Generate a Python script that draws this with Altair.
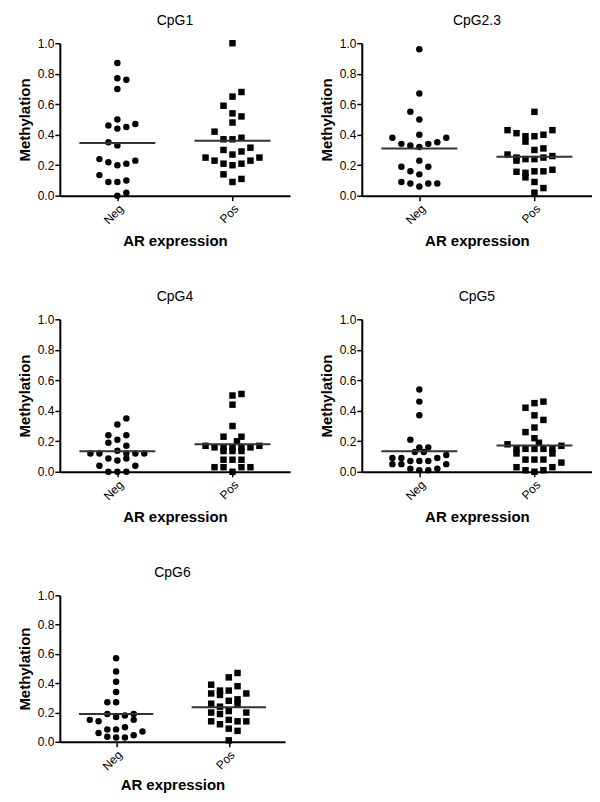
import altair as alt
import pandas as pd

FONT = "Liberation Sans"

panels = ["CpG1", "CpG2.3", "CpG4", "CpG5", "CpG6"]
groups = ["Neg", "Pos"]

# Values; "slot" is the beeswarm column of each point
cpg1_neg = [0.87, 0.77, 0.76, 0.70, 0.50, 0.46, 0.44, 0.45, 0.47, 0.35, 0.33,
            0.24, 0.22, 0.20, 0.21, 0.23, 0.135, 0.09, 0.09, 0.10, 0.0, 0.02]
cpg1_neg_slot = [0, 0, 1, 0, 0, -1, 0, 1, 2, -1, 0, -2, -1, 0, 1, 2, -2, -1, 0, 1, 0, 1]
cpg1_pos = [1.0, 0.68, 0.65, 0.59, 0.54, 0.52, 0.48, 0.42, 0.37, 0.37, 0.38, 0.315,
            0.30, 0.27, 0.29, 0.25, 0.23, 0.21, 0.20, 0.21, 0.23, 0.25, 0.14, 0.09, 0.11]
cpg1_pos_slot = [0, 1, 0, -1, 0, 1, 0, -2, -1, 0, 1, 2, -1, 0, 1, -3, -2, -1, 0, 1, 2, 3, -1, 0, 1]

cpg23_neg = [0.96, 0.67, 0.55, 0.50, 0.40, 0.38, 0.34, 0.33, 0.32, 0.34, 0.35,
             0.38, 0.23, 0.19, 0.19, 0.16, 0.14, 0.09, 0.08, 0.06, 0.08, 0.08]
cpg23_neg_slot = [0, 0, -1, 0, 0, -3, -2, -1, 0, 1, 2, 3, 0, -2, 1, -1, 0, -2, -1, 0, 1, 2]
cpg23_pos = [0.55, 0.43, 0.41, 0.39, 0.355, 0.39, 0.40, 0.43, 0.30, 0.31, 0.27, 0.25, 0.23,
             0.24, 0.24, 0.25, 0.26, 0.157, 0.15, 0.12, 0.16, 0.16, 0.17, 0.09, 0.05, 0.02]
cpg23_pos_slot = [0, -3, -2, -1, -1, 0, 1, 2, 0, 1, -3, -2, -2, -1, 0, 1, 2, -2, -1, -1, 0, 1, 2, 0, 1, 0]

cpg4_neg = [0.35, 0.31, 0.24, 0.24, 0.19, 0.21, 0.17, 0.12, 0.12, 0.138, 0.12,
            0.12, 0.12, 0.087, 0.074, 0.087, 0.04, 0.04, 0.0, 0.0, 0.0]
cpg4_neg_slot = [1, 0, -1, 1, -1, 0, 1, -3, -2, 0, 1, 2, 3, -1, 0, 1, -2, 2, -1, 0, 1]
cpg4_pos = [0.51, 0.50, 0.44, 0.30, 0.23, 0.23, 0.20, 0.17, 0.16, 0.16, 0.16, 0.16, 0.16,
            0.17, 0.136, 0.136, 0.136, 0.079, 0.079, 0.079, 0.03, 0.03, 0.03, 0.03, 0.0]
cpg4_pos_slot = [1, 0, 0, 0, -1, 1, 0.5, -3, -2, -1, 0, 1, 2, 3, -1, 0, 1, -1, 0, 1, -2, -1, 1, 2, 0]

cpg5_neg = [0.54, 0.46, 0.37, 0.21, 0.16, 0.16, 0.13, 0.13, 0.09, 0.09, 0.07,
            0.07, 0.07, 0.09, 0.11, 0.05, 0.05, 0.05, 0.02, 0.01, 0.01, 0.02]
cpg5_neg_slot = [0, 0, 0, -1, 0, 1, -0.5, 0.5, -3, -2, -1, 0, 1, 2, 3, -3, -2, 3, -1, 0, 1, 2]
cpg5_pos = [0.42, 0.45, 0.46, 0.37, 0.34, 0.29, 0.26, 0.22, 0.19, 0.18, 0.17, 0.15, 0.15, 0.15,
            0.15, 0.15, 0.12, 0.12, 0.08, 0.08, 0.08, 0.06, 0.03, 0.01, 0.0, 0.01, 0.03]
cpg5_pos_slot = [-1, 0, 1, 0, 1, 0, -1, 0, 0.5, -3, 3, -2, -1, 0, 1, 2, -2, 2, -1, 0, 1, 3, -2, -1, 0, 1, 2]

cpg6_neg = [0.57, 0.48, 0.41, 0.34, 0.27, 0.27, 0.19, 0.17, 0.18, 0.19, 0.15,
            0.14, 0.15, 0.085, 0.085, 0.10, 0.06, 0.07, 0.035, 0.03, 0.03, 0.045]
cpg6_neg_slot = [0, 0, 0, 0, -1, 0, -1, 0, 1, 2, -3, -2, 2, -1, 0, 1, -2, 3, -1, 0, 1, 2]
cpg6_pos = [0.47, 0.44, 0.39, 0.38, 0.33, 0.35, 0.32, 0.35, 0.33, 0.29, 0.26, 0.26, 0.24,
            0.28, 0.20, 0.19, 0.20, 0.21, 0.14, 0.12, 0.15, 0.14, 0.14, 0.09, 0.075, 0.01]
cpg6_pos_slot = [1, 0, -2, 1, -2, -1, -1, 0, 2, 1, 1, -2, -1, 0, -2, -1, 2, 0, -2, -1, 0, 1, 2, 0, 1, 0]

medians_neg = [0.345, 0.31, 0.135, 0.135, 0.19]
medians_pos = [0.36, 0.255, 0.18, 0.173, 0.236]

y_ticks = [0.0, 0.2, 0.4, 0.6, 0.8, 1.0]

series = {
    "CpG1": (cpg1_neg, cpg1_neg_slot, cpg1_pos, cpg1_pos_slot),
    "CpG2.3": (cpg23_neg, cpg23_neg_slot, cpg23_pos, cpg23_pos_slot),
    "CpG4": (cpg4_neg, cpg4_neg_slot, cpg4_pos, cpg4_pos_slot),
    "CpG5": (cpg5_neg, cpg5_neg_slot, cpg5_pos, cpg5_pos_slot),
    "CpG6": (cpg6_neg, cpg6_neg_slot, cpg6_pos, cpg6_pos_slot),
}

rows = []
for name, (nv, ns, pv, ps) in series.items():
    for v, s in zip(nv, ns):
        rows.append({"panel": name, "group": "Neg", "gidx": 0, "value": v, "slot": s})
    for v, s in zip(pv, ps):
        rows.append({"panel": name, "group": "Pos", "gidx": 1, "value": v, "slot": s})
pts_df = pd.DataFrame(rows)

med_rows = []
for i, name in enumerate(panels):
    med_rows.append({"panel": name, "group": "Neg", "gidx": 0, "median": medians_neg[i]})
    med_rows.append({"panel": name, "group": "Pos", "gidx": 1, "median": medians_pos[i]})
med_df = pd.DataFrame(med_rows)

STEP = 0.078
HALF = 0.33


def make_axes(xtitle_pad):
    xaxis = alt.Axis(values=[0, 1], labelExpr="datum.value == 0 ? 'Neg' : 'Pos'",
                     labelAngle=-45, labelFontSize=12, labelFont=FONT, labelColor="black",
                     labelOverlap=False,
                     title="AR expression", titleFontSize=15, titleFontWeight="bold",
                     titleFont=FONT, titleColor="black", titlePadding=xtitle_pad,
                     domainColor="black", domainWidth=2, tickColor="black", tickWidth=1.5,
                     tickSize=5, labelPadding=2, grid=False)
    yaxis = alt.Axis(values=y_ticks, format=".1f",
                     labelFontSize=12, labelFont=FONT, labelColor="black", labelPadding=1,
                     labelOverlap=False, labelFlush=False,
                     title="Methylation", titleFontSize=15, titleFontWeight="bold",
                     titleFont=FONT, titleColor="black", titlePadding=5,
                     domainColor="black", domainWidth=2, tickColor="black", tickWidth=1.5,
                     tickSize=5, grid=False)
    return xaxis, yaxis


def panel(name, w=231, h=153, xtitle_pad=8):
    xaxis, yaxis = make_axes(xtitle_pad)
    xs = alt.Scale(domain=[-0.5, 1.5], nice=False, zero=False)
    ys = alt.Scale(domain=[0, 1], nice=False)
    pts = (
        alt.Chart(pts_df)
        .transform_filter(alt.datum.panel == name)
        .transform_calculate(xpos=f"datum.gidx + datum.slot * {STEP}")
        .mark_point(filled=True, color="black", opacity=1, size=42)
        .encode(
            x=alt.X("xpos:Q", scale=xs, axis=xaxis),
            y=alt.Y("value:Q", scale=ys, axis=yaxis),
            shape=alt.Shape("group:N",
                            scale=alt.Scale(domain=groups, range=["circle", "square"]),
                            legend=None),
        )
    )
    med = (
        alt.Chart(med_df)
        .transform_filter(alt.datum.panel == name)
        .transform_calculate(xa=f"datum.gidx - {HALF}", xb=f"datum.gidx + {HALF}")
        .mark_rule(color="#333333", strokeWidth=2)
        .encode(x=alt.X("xa:Q", scale=xs, axis=xaxis), x2="xb:Q",
                y=alt.Y("median:Q", scale=ys, axis=yaxis))
    )
    return alt.layer(pts, med).properties(
        width=w, height=h,
        title=alt.TitleParams(name, fontSize=14, fontWeight="normal", font=FONT,
                              color="black", offset=9),
    )


row1 = alt.hconcat(panel("CpG1"), panel("CpG2.3"), spacing=29)
row2 = alt.hconcat(panel("CpG4"), panel("CpG5"), spacing=29)
row3 = panel("CpG6", w=226, h=147, xtitle_pad=5)

chart = (
    alt.vconcat(row1, row2, row3, spacing=41)
    .properties(padding={"left": 9, "top": 5, "right": 0, "bottom": 0})
    .configure_view(stroke=None)
)

chart.save("out.html", embed_options={"renderer": "svg", "actions": False})
